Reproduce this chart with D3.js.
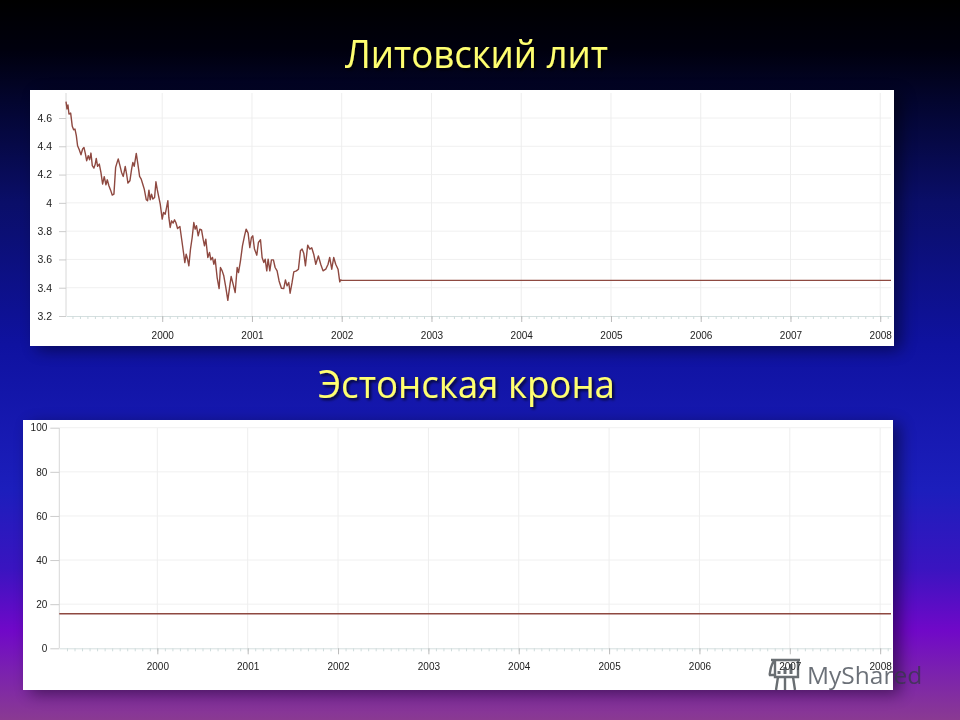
<!DOCTYPE html>
<html>
<head>
<meta charset="utf-8">
<script src="https://cdn.jsdelivr.net/npm/d3@7"></script>
<style>
html,body{margin:0;padding:0;background:#000;}
svg{display:block;}
text{font-family:"Liberation Sans",Arial,sans-serif;}
</style>
</head>
<body>
<svg id="c" width="960" height="720"></svg>
<script>
const titleTop = "Литовский лит";
const titleBottom = "Эстонская крона";
const watermark = "MyShared";

const yearTicks = [2000, 2001, 2002, 2003, 2004, 2005, 2006, 2007, 2008];
const litasTicks = [3.2, 3.4, 3.6, 3.8, 4, 4.2, 4.4, 4.6];
const kroonTicks = [0, 20, 40, 60, 80, 100];

const litasYears = [
1998.928,1998.939,1998.950,1998.961,1998.980,1998.998,1999.013,1999.028,1999.043,1999.057,
1999.076,1999.095,1999.113,1999.128,1999.143,1999.158,1999.176,1999.191,1999.206,1999.221,
1999.239,1999.254,1999.265,1999.280,1999.299,1999.317,1999.336,1999.354,1999.373,1999.388,
1999.406,1999.425,1999.443,1999.462,1999.481,1999.495,1999.510,1999.529,1999.547,1999.566,
1999.588,1999.603,1999.618,1999.640,1999.659,1999.673,1999.688,1999.711,1999.729,1999.748,
1999.766,1999.781,1999.800,1999.822,1999.837,1999.852,1999.866,1999.881,1999.896,1999.915,
1999.930,1999.944,1999.959,1999.978,2000.000,2000.015,2000.033,2000.045,2000.063,2000.074,
2000.089,2000.104,2000.122,2000.137,2000.152,2000.171,2000.197,2000.219,2000.237,2000.252,
2000.267,2000.282,2000.297,2000.315,2000.334,2000.352,2000.367,2000.382,2000.401,2000.419,
2000.438,2000.456,2000.471,2000.486,2000.508,2000.527,2000.542,2000.560,2000.575,2000.590,
2000.612,2000.634,2000.649,2000.668,2000.686,2000.709,2000.731,2000.753,2000.768,2000.790,
2000.813,2000.835,2000.850,2000.872,2000.894,2000.917,2000.935,2000.957,2000.976,2000.994,
2001.009,2001.028,2001.054,2001.072,2001.095,2001.113,2001.132,2001.147,2001.165,2001.180,
2001.199,2001.217,2001.239,2001.258,2001.280,2001.302,2001.328,2001.354,2001.373,2001.391,
2001.410,2001.425,2001.447,2001.466,2001.495,2001.518,2001.540,2001.558,2001.577,2001.596,
2001.621,2001.644,2001.666,2001.688,2001.711,2001.740,2001.766,2001.792,2001.822,2001.848,
2001.866,2001.889,2001.911,2001.933,2001.959,2001.978,2001.989,2002.000,2008.120
];
const litasRates = [
4.716,4.664,4.692,4.628,4.635,4.541,4.517,4.522,4.475,4.404,
4.376,4.340,4.381,4.392,4.350,4.298,4.333,4.305,4.352,4.263,
4.246,4.274,4.314,4.258,4.274,4.215,4.133,4.185,4.128,4.163,
4.121,4.090,4.055,4.062,4.251,4.281,4.310,4.263,4.215,4.187,
4.258,4.204,4.140,4.156,4.239,4.286,4.258,4.350,4.274,4.187,
4.168,4.137,4.097,4.022,4.015,4.090,4.022,4.062,4.027,4.038,
4.149,4.097,4.050,3.991,3.885,3.932,3.920,3.956,4.015,3.897,
3.826,3.873,3.857,3.880,3.861,3.819,3.833,3.732,3.649,3.578,
3.637,3.602,3.555,3.673,3.755,3.861,3.814,3.838,3.767,3.814,
3.809,3.743,3.696,3.743,3.614,3.649,3.597,3.614,3.566,3.602,
3.472,3.394,3.543,3.519,3.484,3.401,3.311,3.413,3.479,3.425,
3.366,3.543,3.507,3.590,3.696,3.767,3.814,3.786,3.684,3.755,
3.767,3.673,3.630,3.720,3.739,3.614,3.578,3.602,3.519,3.602,
3.519,3.597,3.597,3.543,3.519,3.448,3.396,3.394,3.455,3.413,
3.437,3.361,3.437,3.512,3.519,3.531,3.661,3.673,3.644,3.555,
3.701,3.673,3.682,3.637,3.566,3.625,3.566,3.519,3.531,3.566,
3.614,3.531,3.614,3.566,3.531,3.441,3.455,3.452,3.452
];
const kroonYears = [1998.915, 2008.12];
const kroonRates = [15.65, 15.65];

const svg = d3.select("#c");
const defs = svg.append("defs");

const bg = defs.append("linearGradient").attr("id","bg").attr("x1",0).attr("y1",0).attr("x2",0).attr("y2",1);
[[0,"#000000"],[0.07,"#00000e"],[0.14,"#03052e"],[0.28,"#0a0e68"],[0.48,"#0f12a0"],[0.68,"#1c1ebc"],[0.79,"#3a14c0"],[0.875,"#7008c8"],[0.93,"#7a20b0"],[1,"#8a3a92"]]
  .forEach(([o,c])=>bg.append("stop").attr("offset",o).attr("stop-color",c));

const shadow = defs.append("filter").attr("id","sh").attr("x","-10%").attr("y","-10%").attr("width","120%").attr("height","125%");
shadow.append("feGaussianBlur").attr("stdDeviation",8);

const soft = defs.append("filter").attr("id","soft");
soft.append("feGaussianBlur").attr("stdDeviation",0.35);

const tsh = defs.append("filter").attr("id","tsh").attr("x","-5%").attr("y","-20%").attr("width","110%").attr("height","140%");
tsh.append("feDropShadow").attr("dx",2).attr("dy",2).attr("stdDeviation",1.5).attr("flood-color","#000").attr("flood-opacity",0.75);

svg.append("rect").attr("width",960).attr("height",720).attr("fill","url(#bg)");

function title(txt, cx, y, len){
  svg.append("text").attr("x",cx).attr("y",y).attr("text-anchor","middle")
    .attr("fill","#ffff70").attr("filter","url(#tsh)")
    .attr("textLength",len).attr("lengthAdjust","spacingAndGlyphs")
    .style("font-family","'Open Sans',sans-serif").style("font-size","38px").text(txt);
}
title(titleTop, 476.5, 68, 263);
title(titleBottom, 466.5, 398, 297);

function panel(o){
  svg.append("rect").attr("x",o.px+7).attr("y",o.py+4).attr("width",o.pw).attr("height",o.ph)
    .attr("fill","#000").attr("opacity",0.45).attr("filter","url(#sh)");
  svg.append("rect").attr("x",o.px).attr("y",o.py).attr("width",o.pw).attr("height",o.ph).attr("fill","#fff");

  const g = svg.append("g").attr("filter","url(#soft)");
  const x = d3.scaleLinear().domain(o.xDomain).range(o.xRange);
  const y = d3.scaleLinear().domain(o.yDomain).range(o.yRange);

  // grid
  g.append("g").selectAll("line").data(o.yTicks.slice(1)).join("line")
    .attr("x1",o.xRange[0]).attr("x2",o.gridRight).attr("y1",d=>y(d)).attr("y2",d=>y(d))
    .attr("stroke","#f0f0f0").attr("stroke-width",1);
  g.append("g").selectAll("line").data(yearTicks).join("line")
    .attr("x1",d=>x(d)).attr("x2",d=>x(d)).attr("y1",o.gridTop).attr("y2",o.yRange[0])
    .attr("stroke","#eeeeee").attr("stroke-width",1);

  // minor monthly ticks
  const months = d3.range(1999, 2008.2, 1/12).filter(m=>m<=o.xDomain[1]);
  const minor = g.append("g").attr("transform",`translate(0,${o.yRange[0]})`)
    .call(d3.axisBottom(x).tickValues(months).tickSize(3).tickSizeOuter(0).tickFormat(""));
  minor.select(".domain").attr("stroke","#d5dfdf");
  minor.selectAll("line").attr("stroke","#cfdcdc");

  // y axis
  const ya = g.append("g").attr("transform",`translate(${o.xRange[0]},0)`)
    .call(d3.axisLeft(y).tickValues(o.yTicks).tickSize(o.tickLen).tickPadding(o.tickPad).tickFormat(d=>String(d)));
  ya.select(".domain").attr("stroke","#d8d8d8").attr("d",`M0,${o.yRange[0]}V${o.gridTop}`);
  ya.selectAll("line").attr("stroke","#cccccc");
  ya.selectAll("text").attr("fill","#222").style("font-size",o.yFont).style("font-family","'Liberation Sans',sans-serif");

  // x axis
  const xa = g.append("g").attr("transform",`translate(0,${o.yRange[0]})`)
    .call(d3.axisBottom(x).tickValues(yearTicks).tickSize(6).tickPadding(o.xPad).tickFormat(d3.format("d")));
  xa.select(".domain").remove();
  xa.selectAll("line").attr("stroke","#bbbbbb");
  xa.selectAll("text").attr("fill","#222").style("font-size","10px").style("font-family","'Liberation Sans',sans-serif");

  const line = d3.line().x(d=>x(d[0])).y(d=>y(d[1]));
  g.append("path").datum(d3.zip(o.xs,o.ys)).attr("fill","none")
    .attr("stroke","#8e4840").attr("stroke-width",1.4).attr("stroke-linejoin","round").attr("d",line);
}

panel({px:30,py:90,pw:864,ph:256,
  xDomain:[1998.928,2008.12],xRange:[66,891],
  yDomain:[3.2,4.6],yRange:[316,118],
  yTicks:litasTicks,tickLen:7,tickPad:7,xPad:10,gridTop:93,gridRight:891,yFont:"10.5px",
  xs:litasYears,ys:litasRates});

panel({px:23,py:420,pw:870,ph:270,
  xDomain:[1998.915,2008.12],xRange:[59.3,891],
  yDomain:[0,100],yRange:[648.3,427.7],
  yTicks:kroonTicks,tickLen:9,tickPad:3,xPad:9,gridTop:428,gridRight:891,yFont:"10px",
  xs:kroonYears,ys:kroonRates});

// watermark
const wm = svg.append("g").attr("opacity",0.72);
wm.append("text").attr("x",807).attr("y",684).attr("fill","#333a44")
  .style("font-family","'Open Sans',sans-serif").style("font-size","24.5px").text(watermark);
const ic = wm.append("g").attr("fill","none").attr("stroke","#30363c").attr("stroke-width",2.4);
ic.append("path").attr("d","M771 660 H800 M775 660 V677 H798 V660 M775 660 C769 666 771 674 769 675 H775 M778 677 L776 690 M785 677 V690 M793 677 L795 690");
ic.append("path").attr("stroke-width",3).attr("d","M779 674 V671 M785 674 V667 M791 674 V664");
</script>
</body>
</html>
